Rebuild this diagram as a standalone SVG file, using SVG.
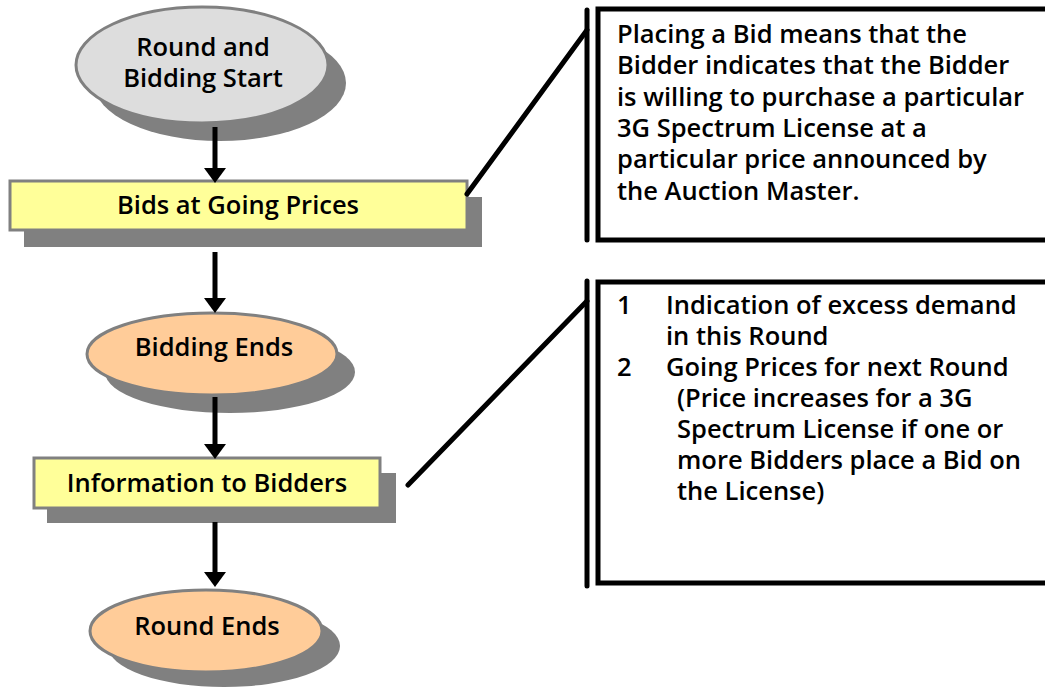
<svg xmlns="http://www.w3.org/2000/svg" width="1045" height="688" viewBox="0 0 1045 688">
<style>
.t{font-family:"Open Sans","DejaVu Sans",sans-serif;font-weight:600;font-size:25.5px;fill:#000}
.c{text-anchor:middle}
.sh{fill:#808080}
.gray{fill:#dddddd;stroke:#808080;stroke-width:3}
.orng{fill:#ffcc99;stroke:#808080;stroke-width:3}
.yel{fill:#ffff99;stroke:#808080;stroke-width:3}
.arr{stroke:#000;stroke-width:5;fill:none}
.cl{stroke:#000;stroke-width:5;fill:none;stroke-linecap:round}
.box{fill:#fff;stroke:#000;stroke-width:5}
</style>
<defs>
<marker id="ah" markerUnits="userSpaceOnUse" markerWidth="16" markerHeight="24" refX="0" refY="12" orient="auto">
<path d="M0,1 L15,12 L0,23 Z" fill="#000"/>
</marker>
</defs>
<rect width="1045" height="688" fill="#fff"/>
<g id="start">
<ellipse class="sh" cx="220" cy="83" rx="126" ry="58"/>
<ellipse class="gray" cx="202" cy="65" rx="126" ry="58"/>
<text class="t c" x="203" y="56">Round and</text>
<text class="t c" x="203" y="87">Bidding Start</text>
</g>
<g id="bids">
<rect class="sh" x="24" y="197" width="458" height="50"/>
<rect class="yel" x="10" y="181" width="457" height="49"/>
<text class="t c" x="238" y="214">Bids at Going Prices</text>
</g>
<g id="biddingEnds">
<ellipse class="sh" cx="230" cy="372" rx="125" ry="41"/>
<ellipse class="orng" cx="212" cy="354" rx="125" ry="41"/>
<text class="t c" x="214" y="356">Bidding Ends</text>
</g>
<g id="info">
<rect class="sh" x="47" y="473" width="349" height="50"/>
<rect class="yel" x="34" y="458" width="346" height="50"/>
<text class="t c" x="207" y="492">Information to Bidders</text>
</g>
<g id="roundEnds">
<ellipse class="sh" cx="224" cy="646" rx="116" ry="41"/>
<ellipse class="orng" cx="206" cy="631" rx="116" ry="41"/>
<text class="t c" x="207" y="635">Round Ends</text>
</g>
<g id="note1">
<line class="cl" x1="587" y1="10" x2="587" y2="240"/>
<rect class="box" x="598" y="9" width="460" height="231"/>
<text class="t" x="617" y="43">Placing a Bid means that the</text>
<text class="t" x="617" y="74">Bidder indicates that the Bidder</text>
<text class="t" x="617" y="106">is willing to purchase a particular</text>
<text class="t" x="617" y="137">3G Spectrum License at a</text>
<text class="t" x="617" y="168">particular price announced by</text>
<text class="t" x="617" y="200">the Auction Master.</text>
</g>
<g id="note2">
<line class="cl" x1="587" y1="281" x2="587" y2="586"/>
<rect class="box" x="598" y="282" width="460" height="301"/>
<text class="t" x="617" y="314">1</text>
<text class="t" x="666" y="314">Indication of excess demand</text>
<text class="t" x="666" y="345">in this Round</text>
<text class="t" x="617" y="376">2</text>
<text class="t" x="666" y="376">Going Prices for next Round</text>
<text class="t" x="677" y="407">(Price increases for a 3G</text>
<text class="t" x="677" y="438">Spectrum License if one or</text>
<text class="t" x="677" y="469">more Bidders place a Bid on</text>
<text class="t" x="677" y="500">the License)</text>
</g>
<g id="connectors">
<line class="arr" x1="215" y1="127" x2="215" y2="168" marker-end="url(#ah)"/>
<line class="arr" x1="215" y1="252" x2="215" y2="298" marker-end="url(#ah)"/>
<line class="arr" x1="215" y1="397" x2="215" y2="444" marker-end="url(#ah)"/>
<line class="arr" x1="215" y1="522" x2="215" y2="572" marker-end="url(#ah)"/>
<line class="cl" x1="467" y1="194" x2="587" y2="30"/>
<line class="cl" x1="408" y1="485" x2="587" y2="301"/>
</g>
</svg>
